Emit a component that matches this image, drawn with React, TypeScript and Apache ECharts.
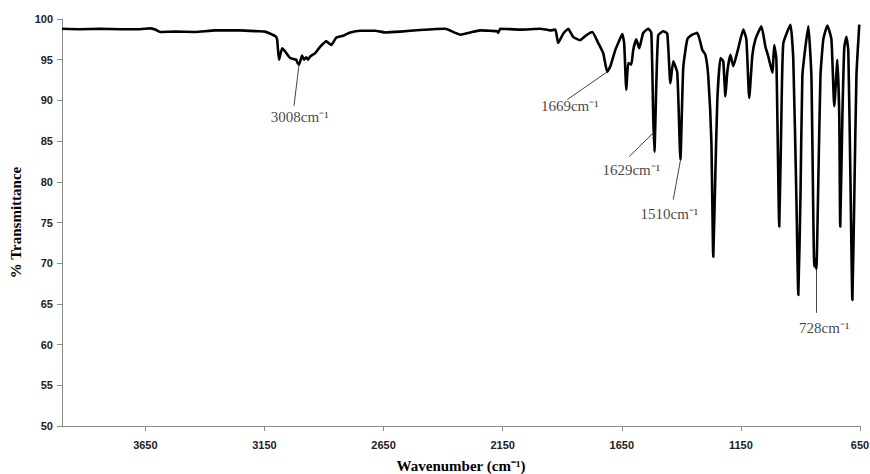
import React, { useEffect, useRef } from "react";
import * as echarts from "echarts";

// Wavenumber (cm-1) and % transmittance
const wavenumbers = [
  4000, 3924, 3840, 3756, 3672, 3630, 3609, 3588, 3525, 3441, 3357, 3252, 3177, 3147, 3126, 3105,
  3097, 3089, 3076, 3063, 3042, 3017, 3011, 3005, 2992, 2984, 2975, 2967, 2958, 2937, 2916, 2891,
  2883, 2870, 2849, 2820, 2790, 2748, 2685, 2643, 2580, 2496, 2391, 2349, 2328, 2286, 2244, 2202,
  2173, 2169, 2160, 2076, 1992, 1950, 1929, 1917, 1896, 1875, 1854, 1825, 1799, 1774, 1749, 1728,
  1711, 1698, 1677, 1665, 1648, 1640, 1631, 1623, 1610, 1602, 1589, 1577, 1560, 1539, 1526, 1518,
  1513, 1505, 1497, 1476, 1459, 1446, 1434, 1417, 1404, 1392, 1375, 1354, 1333, 1312, 1299, 1287,
  1274, 1266, 1258, 1249, 1236, 1224, 1215, 1207, 1194, 1182, 1161, 1140, 1127, 1115, 1102, 1089,
  1064, 1047, 1035, 1018, 1010, 1001, 989, 980, 972, 942, 930, 917, 909, 900, 892, 879,
  867, 854, 842, 837, 833, 825, 816, 804, 787, 770, 758, 745, 737, 733, 724, 716,
  707, 699, 690, 682, 674, 665, 653,
];
const transmittance = [
  98.8, 98.75, 98.8, 98.75, 98.75, 98.85, 98.7, 98.4, 98.45, 98.4, 98.6, 98.6, 98.5, 98.45, 98.2, 97.9,
  97.5, 95.0, 96.4, 96.0, 95.2, 95.0, 94.6, 94.4, 95.5, 95.0, 95.3, 95.0, 95.4, 95.8, 96.6, 97.25,
  97.1, 96.8, 97.7, 97.95, 98.35, 98.55, 98.55, 98.35, 98.45, 98.65, 98.8, 98.3, 98.07, 98.35, 98.6, 98.55,
  98.5, 98.3, 98.8, 98.7, 98.8, 98.6, 98.7, 97.05, 98.2, 98.8, 97.8, 97.4, 98.0, 98.4, 97.05, 95.8,
  93.5, 94.2, 96.2, 97.05, 98.15, 97.0, 91.3, 94.6, 94.4, 96.2, 97.5, 96.4, 98.3, 98.8, 98.3, 88.0,
  83.7, 92.0, 98.0, 98.5, 98.2, 92.1, 94.8, 93.4, 82.7, 94.0, 97.5, 98.07, 98.3, 96.2, 95.6, 92.95,
  85.0, 70.8, 80.0, 90.0, 95.2, 94.8, 90.5, 93.5, 95.6, 94.2, 96.4, 98.7, 97.5, 90.3, 95.5, 97.5,
  99.1, 96.6, 95.4, 93.4, 96.8, 95.0, 74.5, 88.0, 97.0, 99.3, 95.0, 78.0, 66.1, 78.0, 93.0, 96.6,
  99.1, 93.0, 69.6, 70.5, 69.3, 80.0, 93.0, 97.5, 99.2, 97.5, 89.3, 95.0, 88.0, 74.5, 88.0, 96.5,
  97.8, 96.0, 80.0, 65.5, 78.0, 93.0, 99.3,
];

// Peak annotations
const annotationLabels = ["3008cm\u207B\u00B9", "1669cm\u207B\u00B9", "1629cm\u207B\u00B9", "1510cm\u207B\u00B9", "728cm\u207B\u00B9"];
const annotationPeaks = [[3005, 94.4], [1711, 93.5], [1518, 86.0], [1404, 82.6], [833, 69.2]];
const annotationLeaderEnds = [[3026, 89.35], [1879, 90.1], [1619, 83.1], [1434, 77.8], [833, 63.9]];
const annotationTextAt = [[3002, 88.0], [1868, 89.35], [1610, 81.4], [1450, 76.1], [800, 62.1]];

// Axis settings
const xMin = 650;
const xMax = 4000;
const xInterval = 500;
const yMin = 50;
const yMax = 100;
const yInterval = 5;

export default function App() {
  const ref = useRef<HTMLDivElement>(null);

  useEffect(() => {
    document.body.style.margin = "0";
    if (!ref.current) return;
    const chart = echarts.init(ref.current, undefined, { renderer: "svg" });

    const spectrum = wavenumbers.map((w, i) => [w, transmittance[i]]);
    const labelData = annotationTextAt.map((p, i) => [p[0], p[1], annotationLabels[i]]);
    const leaders = annotationPeaks.map((p, i) => [
      { coord: p },
      { coord: annotationLeaderEnds[i] },
    ]);

    chart.setOption({
      animation: false,
      backgroundColor: "#ffffff",
      grid: {
        left: 62,
        right: 10,
        top: 19,
        bottom: 48,
        containLabel: false,
        outerBoundsMode: "none",
      },
      xAxis: {
        type: "value",
        min: xMin,
        max: xMax,
        interval: xInterval,
        inverse: true,
        name: "Wavenumber (cm\u207B\u00B9)",
        nameLocation: "middle",
        nameGap: 32,
        nameTextStyle: {
          fontFamily: "Liberation Serif",
          fontWeight: "bold",
          fontSize: 15,
          color: "#000",
        },
        axisLine: { show: true, onZero: false, lineStyle: { color: "#8c8c8c", width: 1 } },
        axisTick: { show: true, length: 5, lineStyle: { color: "#8c8c8c" } },
        axisLabel: {
          showMaxLabel: false,
          margin: 13,
          formatter: (v: number) => String(v),
          fontFamily: "Liberation Sans",
          fontWeight: "bold",
          fontSize: 11,
          color: "#222",
        },
        splitLine: { show: false },
      },
      yAxis: {
        type: "value",
        min: yMin,
        max: yMax,
        interval: yInterval,
        name: "% Transmittance",
        nameLocation: "middle",
        nameGap: 35,
        nameRotate: 90,
        nameTextStyle: {
          fontFamily: "Liberation Serif",
          fontWeight: "bold",
          fontSize: 15,
          color: "#000",
        },
        axisLine: { show: true, lineStyle: { color: "#8c8c8c", width: 1 } },
        axisTick: { show: true, length: 5, lineStyle: { color: "#8c8c8c" } },
        axisLabel: {
          margin: 9,
          formatter: (v: number) => String(v),
          fontFamily: "Liberation Sans",
          fontWeight: "bold",
          fontSize: 11,
          color: "#222",
        },
        splitLine: { show: false },
      },
      series: [
        {
          type: "line",
          data: spectrum,
          showSymbol: false,
          symbol: "none",
          smooth: 0.15,
          lineStyle: { color: "#000", width: 2.6, join: "round" },
          silent: true,
          z: 3,
        },
        {
          type: "scatter",
          data: labelData,
          symbolSize: 1,
          itemStyle: { color: "transparent" },
          silent: true,
          label: {
            show: true,
            position: "inside",
            formatter: (p: any) => p.value[2],
            fontFamily: "Liberation Serif",
            fontSize: 15,
            color: "#111",
          },
          markLine: {
            silent: true,
            symbol: ["none", "none"],
            label: { show: false },
            lineStyle: { color: "#444", width: 1, type: "solid" },
            data: leaders,
          },
          z: 4,
        },
      ],
    });

    return () => chart.dispose();
  }, []);

  return <div ref={ref} style={{ width: 870, height: 474 }} />;
}
